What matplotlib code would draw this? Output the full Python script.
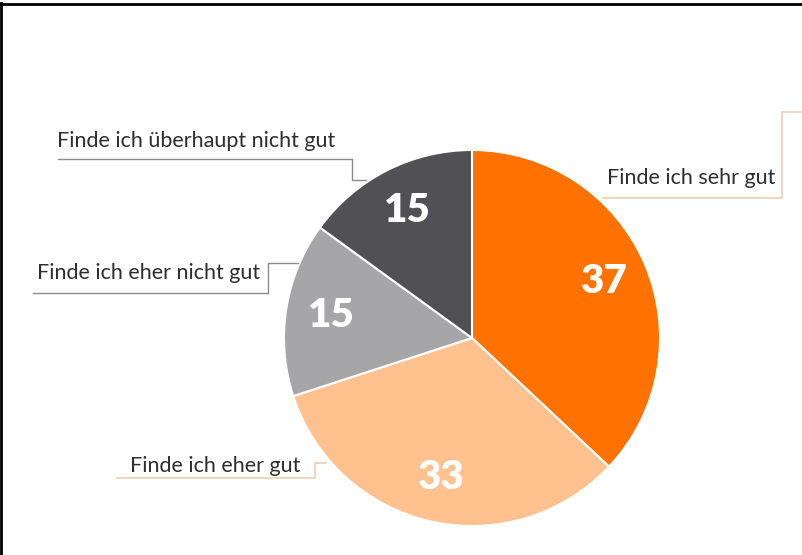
import numpy as np
import matplotlib.pyplot as plt
from matplotlib.lines import Line2D

# Daten
kategorien = ['Finde ich sehr gut', 'Finde ich eher gut',
              'Finde ich eher nicht gut', 'Finde ich überhaupt nicht gut']
werte = [37, 33, 15, 15]
farben = ['#FF7100', '#FFC18E', '#A6A6A8', '#505055']

W, H = 803, 555
fig = plt.figure(figsize=(W / 100, H / 100), dpi=100)
ax = fig.add_axes([0, 0, 1, 1])

def y(v):  # Bildkoordinate (von oben) -> Achsenkoordinate
    return H - v

ax.pie(werte, center=(472, y(338)), radius=188, startangle=90, counterclock=False,
       colors=farben, wedgeprops=dict(edgecolor='white', linewidth=1.5),
       autopct=lambda p: f'{p * sum(werte) / 100:.0f}', pctdistance=0.76,
       textprops=dict(color='white', fontsize=29, fontweight='heavy', family='Lato'))

ax.set_xlim(0, W)
ax.set_ylim(0, H)
ax.set_aspect('equal')
ax.axis('off')

# Beschriftungen mit Verbindungslinien
grau = '#8C8C8C'
beige = '#EBCFB0'
txt = dict(fontsize=15.5, color='#2E2E2E', family='Lato', va='baseline')

ax.text(607, y(184), kategorien[0], ha='left', **txt)
ax.plot([603, 782, 782, 803], [y(198), y(198), y(112), y(112)], color=beige, lw=1.2)

ax.text(130, y(472), kategorien[1], ha='left', **txt)
ax.plot([117, 315, 315, 326], [y(478), y(478), y(463), y(463)], color=beige, lw=1.2)

ax.text(37, y(279), kategorien[2], ha='left', **txt)
ax.plot([33, 268, 268, 298], [y(293), y(293), y(263), y(263)], color=grau, lw=1.0)

ax.text(57, y(147), kategorien[3], ha='left', **txt)
ax.plot([58, 352, 352, 366], [y(159), y(159), y(180), y(180)], color=grau, lw=1.0)

# Rahmen links und oben
fig.add_artist(Line2D([1.5 / W, 1.5 / W], [0, 1 - 3 / H], color='black', lw=2,
                      transform=fig.transFigure))
fig.add_artist(Line2D([0, 1], [1 - 3.5 / H, 1 - 3.5 / H], color='black', lw=2,
                      transform=fig.transFigure))

fig.savefig('out.png', dpi=100)
